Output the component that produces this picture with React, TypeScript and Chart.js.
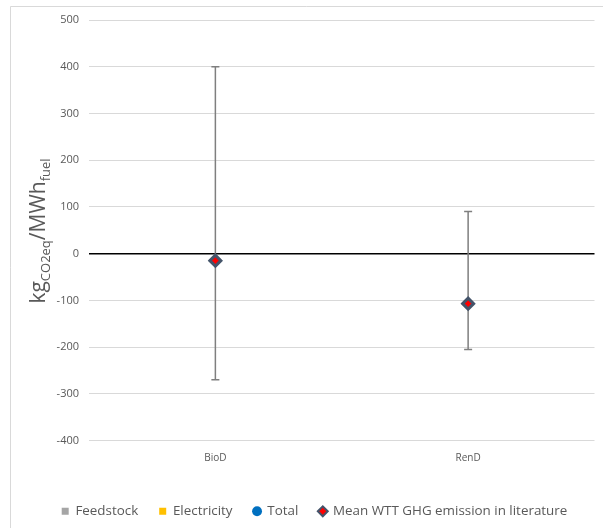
import React, { useEffect, useRef } from "react";
import { Chart, registerables } from "chart.js";

Chart.register(...registerables);

const categories = ["BioD", "RenD"];
const meanValues = [-15, -107];
const errHigh = [400, 90];
const errLow = [-270, -205];
const yTicks = [500, 400, 300, 200, 100, 0, -100, -200, -300, -400];
const legendNames = ["Feedstock", "Electricity", "Total", "Mean WTT GHG emission in literature"];

const FONT = "'Open Sans', 'Noto Sans', sans-serif";
const TEXT_GRAY = "#595959";

const framePlugin = {
  id: "frame",
  beforeDraw(chart: any) {
    const ctx = chart.ctx;
    ctx.save();
    ctx.fillStyle = "#ffffff";
    ctx.fillRect(0, 0, chart.width, chart.height);
    ctx.strokeStyle = "#D9D9D9";
    ctx.lineWidth = 1;
    ctx.beginPath();
    ctx.moveTo(10.5, chart.height);
    ctx.lineTo(10.5, 6.5);
    ctx.lineTo(chart.width, 6.5);
    ctx.stroke();
    ctx.restore();
  },
};

const errorBarPlugin = {
  id: "errorBars",
  beforeDatasetsDraw(chart: any) {
    const ctx = chart.ctx;
    const xs = chart.scales.x;
    const ys = chart.scales.y;
    ctx.save();
    ctx.strokeStyle = "#7F7F7F";
    ctx.lineWidth = 1.5;
    for (let i = 0; i < categories.length; i++) {
      const x = xs.getPixelForValue(i);
      const yh = ys.getPixelForValue(errHigh[i]);
      const yl = ys.getPixelForValue(errLow[i]);
      ctx.beginPath();
      ctx.moveTo(x, yh);
      ctx.lineTo(x, yl);
      ctx.moveTo(x - 4, yh);
      ctx.lineTo(x + 4, yh);
      ctx.moveTo(x - 4, yl);
      ctx.lineTo(x + 4, yl);
      ctx.stroke();
    }
    ctx.restore();
  },
};

const yTitlePlugin = {
  id: "yTitle",
  afterDraw(chart: any) {
    const ctx = chart.ctx;
    const parts = [
      { t: "kg", sub: false },
      { t: "CO2eq", sub: true },
      { t: "/MWh", sub: false },
      { t: "fuel", sub: true },
    ];
    const mainFont = `21px ${FONT}`;
    const subFont = `13px ${FONT}`;
    ctx.save();
    let total = 0;
    const widths = parts.map((p) => {
      ctx.font = p.sub ? subFont : mainFont;
      const w = ctx.measureText(p.t).width;
      total += w;
      return w;
    });
    ctx.translate(45, 231);
    ctx.rotate(-Math.PI / 2);
    ctx.fillStyle = TEXT_GRAY;
    ctx.textBaseline = "alphabetic";
    ctx.textAlign = "left";
    let x = -total / 2;
    parts.forEach((p, i) => {
      ctx.font = p.sub ? subFont : mainFont;
      ctx.fillText(p.t, x, p.sub ? 5 : 0);
      x += widths[i];
    });
    ctx.restore();
  },
};

export default function App() {
  const ref = useRef<HTMLCanvasElement | null>(null);
  useEffect(() => {
    if (!ref.current) return;
    const chart = new Chart(ref.current, {
      type: "bar",
      data: {
        labels: categories,
        datasets: [
          { type: "bar", label: legendNames[0], data: [null, null], backgroundColor: "#A5A5A5" },
          { type: "bar", label: legendNames[1], data: [null, null], backgroundColor: "#FFC000" },
          {
            type: "line",
            label: legendNames[2],
            data: [null, null],
            showLine: false,
            pointStyle: "circle",
            backgroundColor: "#0070C0",
            borderColor: "#0070C0",
          },
          {
            type: "line",
            label: legendNames[3],
            data: meanValues,
            showLine: false,
            pointStyle: "rectRot",
            pointRadius: 5.5,
            pointBackgroundColor: "#FF0000",
            pointBorderColor: "#44546A",
            pointBorderWidth: 3,
            backgroundColor: "#FF0000",
            borderColor: "#44546A",
          },
        ] as any,
      },
      options: {
        animation: false,
        responsive: false,
        devicePixelRatio: 1,
        layout: { padding: { left: 27, right: 1, top: 20, bottom: 0 } },
        plugins: {
          tooltip: { enabled: false },
          legend: {
            position: "bottom",
            labels: {
              usePointStyle: true,
              boxWidth: 7,
              boxHeight: 7,
              padding: 21,
              color: TEXT_GRAY,
              font: { family: FONT, size: 13.4 },
              generateLabels: () => [
                { text: legendNames[0], pointStyle: "rect", fillStyle: "#A5A5A5", strokeStyle: "#A5A5A5", lineWidth: 0, fontColor: TEXT_GRAY, datasetIndex: 0 },
                { text: legendNames[1], pointStyle: "rect", fillStyle: "#FFC000", strokeStyle: "#FFC000", lineWidth: 0, fontColor: TEXT_GRAY, datasetIndex: 1 },
                { text: legendNames[2], pointStyle: "circle", fillStyle: "#0070C0", strokeStyle: "#0070C0", lineWidth: 0, fontColor: TEXT_GRAY, datasetIndex: 2 },
                { text: legendNames[3], pointStyle: "rectRot", fillStyle: "#FF0000", strokeStyle: "#44546A", lineWidth: 2, fontColor: TEXT_GRAY, datasetIndex: 3 },
              ] as any,
            },
          },
        },
        scales: {
          x: {
            grid: { display: false, drawTicks: false },
            border: { display: false },
            ticks: { color: TEXT_GRAY, font: { family: FONT, size: 10 }, padding: 12 },
            afterFit: (s: any) => {
              s.height = 43;
            },
          },
          y: {
            min: -400,
            max: 500,
            afterFit: (s: any) => {
              s.width = 62;
            },
            afterBuildTicks: (s: any) => {
              s.ticks = yTicks.map((v) => ({ value: v }));
            },
            grid: {
              drawTicks: false,
              color: (c: any) => (c.tick && c.tick.value === 0 ? "#000000" : "#D9D9D9"),
              lineWidth: (c: any) => (c.tick && c.tick.value === 0 ? 1.5 : 1),
            },
            border: { display: false },
            ticks: { color: TEXT_GRAY, font: { family: FONT, size: 11 }, padding: 10 },
          },
        },
      },
      plugins: [framePlugin, errorBarPlugin, yTitlePlugin],
    });
    return () => chart.destroy();
  }, []);
  return (
    <div style={{ position: "absolute", left: 0, top: 0, width: 603, height: 528 }}>
      <canvas ref={ref} width={603} height={528} style={{ display: "block" }} />
    </div>
  );
}
